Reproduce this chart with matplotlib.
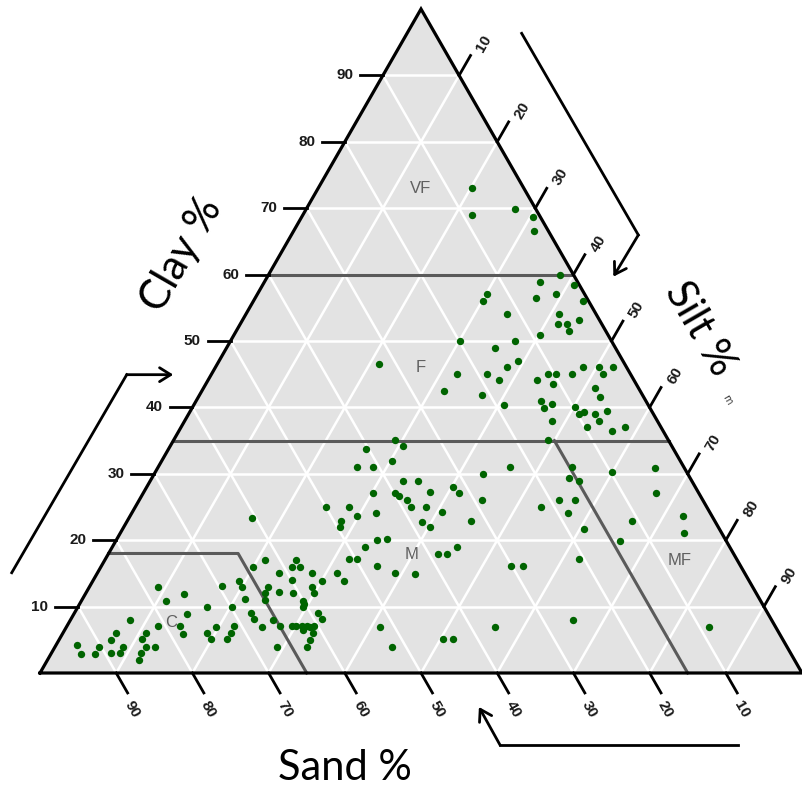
import numpy as np
import matplotlib.pyplot as plt

# soil samples: % clay and % sand (silt makes up the rest)
clay = [73.0, 69.0, 69.9, 68.7, 66.6, 59.9, 58.9, 58.4, 57.1, 56.0,
        57.1, 56.5, 56.0, 54.1, 54.1, 52.6, 52.6, 51.5, 53.2, 50.9,
        50.0, 50.0, 48.9, 47.0, 46.1, 45.0, 45.0, 44.1, 42.5, 41.9,
        40.4, 44.1, 45.0, 45.0, 43.5, 45.0, 46.1, 46.1, 45.0, 46.1,
        42.9, 41.6, 41.0, 40.5, 39.9, 40.1, 39.0, 39.3, 39.0, 39.5,
        38.0, 38.0, 37.0, 36.4, 37.0, 35.1, 46.5, 35.1, 34.2, 33.7,
        31.9, 31.0, 31.0, 31.0, 30.0, 28.9, 28.9, 28.0, 27.1, 27.3,
        27.1, 27.1, 26.7, 26.1, 25.0, 25.0, 26.1, 25.0, 25.0, 25.0,
        26.1, 24.1, 23.6, 24.2, 22.9, 22.0, 22.7, 22.0, 22.9, 20.2,
        20.0, 19.0, 19.0, 17.9, 17.9, 17.2, 17.2, 16.1, 15.1, 13.9,
        15.1, 14.9, 16.1, 16.1, 17.2, 19.9, 6.9, 3.9, 5.1, 5.1,
        6.9, 8.0, 6.9, 31.0, 30.3, 30.9, 29.4, 28.9, 27.1, 26.1,
        24.1, 22.9, 23.6, 21.7, 21.1,
        13.0, 11.9, 10.8, 8.0, 6.0, 5.0, 4.2, 2.9, 2.9, 3.9,
        3.0, 3.0, 3.9, 5.1, 6.0, 3.9, 3.0, 2.0, 3.9, 7.1,
        7.1, 5.9, 8.9, 9.9, 13.1, 9.9, 6.9, 6.0, 5.1, 5.1,
        6.0, 7.1, 13.9, 13.0, 11.1, 16.0, 17.0, 9.0, 8.1, 6.9,
        12.0, 13.0, 11.0, 8.0, 15.1, 12.2, 7.1, 3.9, 14.0, 12.0,
        16.0, 17.0, 16.0, 15.1, 13.0, 12.0, 13.9, 10.8, 9.9, 10.4,
        9.0, 8.1, 7.1, 7.1, 7.1, 7.1, 6.9, 7.1, 6.5, 6.0,
        5.0, 3.9, 23.3]
sand = [6.8, 8.8, 2.7, 0.9, 1.9, 1.8, 4.9, 0.7, 12.8, 13.9,
        3.8, 6.6, 0.7, 11.7, 4.8, 5.7, 4.5, 4.8, 2.7, 8.9,
        19.9, 12.7, 15.8, 13.8, 15.7, 22.8, 18.8, 17.7, 25.7, 21.0,
        18.9, 12.7, 10.8, 9.8, 10.9, 7.7, 5.7, 3.6, 3.6, 1.8,
        5.7, 5.7, 13.8, 12.6, 13.9, 9.7, 9.8, 8.9, 7.7, 5.8,
        7.6, 13.8, 9.7, 6.7, 4.7, 15.8, 32.3, 35.9, 35.3, 40.4,
        37.9, 42.9, 40.8, 22.8, 26.9, 37.9, 35.9, 31.8, 31.5, 35.2,
        42.7, 39.8, 39.6, 38.8, 38.8, 36.8, 28.9, 50.0, 46.9, 21.8,
        18.9, 43.8, 46.6, 35.1, 49.0, 49.6, 38.5, 37.8, 32.0, 44.4,
        45.8, 47.8, 35.8, 38.8, 37.7, 50.8, 49.8, 47.7, 53.5, 53.1,
        45.9, 43.4, 30.2, 28.6, 20.7, 13.9, 51.9, 51.9, 44.6, 43.2,
        36.8, 26.1, 8.7, 14.7, 9.8, 3.8, 15.9, 14.8, 5.6, 16.8,
        18.7, 10.8, 3.8, 17.7, 4.9,
        78.0, 75.1, 78.1, 84.2, 87.0, 88.2, 93.0, 93.2, 91.3, 90.3,
        89.2, 88.0, 87.1, 84.0, 83.1, 84.1, 85.2, 86.0, 83.0, 80.9,
        78.1, 78.3, 76.3, 73.2, 69.6, 69.9, 73.4, 75.1, 75.0, 72.9,
        71.9, 71.0, 67.0, 67.0, 67.6, 64.0, 62.0, 67.8, 67.9, 67.4,
        64.5, 63.6, 65.0, 65.4, 61.1, 62.5, 64.9, 66.9, 59.9, 60.8,
        58.9, 57.9, 57.9, 56.8, 57.8, 58.0, 56.1, 60.1, 60.6, 60.2,
        59.0, 58.9, 63.4, 62.8, 62.1, 61.4, 61.1, 60.5, 62.3, 61.2,
        62.1, 63.0, 60.5]

ticks = [10, 20, 30, 40, 50, 60, 70, 80, 90]

# texture class boundaries (sand, clay) and class labels
boundaries = [([40, 0], [60, 60]),
              ([65, 0], [35, 35]),
              ([82, 65, 65], [18, 18, 0]),
              ([15, 15], [35, 0])]
class_names = ["VF", "F", "M", "C", "MF"]
class_sand = [13.5, 27.0, 42.3, 79.0, 7.5]
class_clay = [73.0, 46.0, 17.8, 7.6, 17.0]

SQ = np.sqrt(3) / 2


def tern(s, c):
    s = np.asarray(s, float)
    c = np.asarray(c, float)
    return 100 - s - c / 2, c * SQ


fig = plt.figure(figsize=(8.03, 7.89), dpi=100)
ax = fig.add_axes([0, 0, 1, 1])
ax.set_xlim(-5.25, 100.13)
ax.set_ylim(-15.13, 87.78)
ax.axis("off")

ax.fill(*tern([100, 0, 0], [0, 0, 100]), color="#e3e3e3", zorder=0)

for v in ticks:
    kw = dict(color="white", lw=1.8, zorder=1)
    ax.plot(*tern([100 - v, 0], [v, v]), **kw)
    ax.plot(*tern([v, v], [0, 100 - v]), **kw)
    ax.plot(*tern([100 - v, 0], [0, 100 - v]), **kw)

for bs, bc in boundaries:
    ax.plot(*tern(bs, bc), color="#5a5a5a", lw=2.2, zorder=2)

ax.plot(*tern([100, 0, 0, 100], [0, 0, 100, 0]), color="black", lw=2.3,
        zorder=4, solid_joinstyle="miter")

tfont = dict(family="Liberation Sans", fontweight="bold", fontsize=11,
             color="#1a1a1a")
L = 3.0
for v in ticks:
    # clay (left)
    x0, y0 = tern(100 - v, v)
    ax.plot([x0, x0 - L], [y0, y0], color="black", lw=2, zorder=4)
    ax.text(x0 - L - 0.9, y0, str(v), ha="right", va="center", **tfont)
    # sand (bottom)
    x0, y0 = tern(v, 0)
    ax.plot([x0, x0 + L * 0.5], [y0, y0 - L * SQ], color="black", lw=2, zorder=4)
    ax.text(x0 + 2.1, y0 - 4.8, str(v), ha="center", va="center",
            rotation=-60, **tfont)
    # silt (right)
    x0, y0 = tern(0, 100 - v)
    ax.plot([x0, x0 + L * 0.5], [y0, y0 + L * SQ], color="black", lw=2, zorder=4)
    ax.text(x0 + 3.3, y0 + 4.1, str(v), ha="center", va="center",
            rotation=60, **tfont)

for name, s, c in zip(class_names, class_sand, class_clay):
    x, y = tern(s, c)
    ax.text(x, y, name, ha="center", va="center", fontsize=12,
            family="Liberation Sans", color="#606060", zorder=3)

px, py = tern(sand, clay)
ax.plot(px, py, "o", color="#006400", ms=5.3, mec="none", zorder=5)

title = dict(family="Lato", fontsize=30, color="black")
ax.text(40.0, -12.4, "Sand %", ha="center", va="center", **title)
ax.text(18.6, 54.5, "Clay %", ha="center", va="center", rotation=60, **title)
ax.text(86.6, 44.9, "Silt %", ha="center", va="center", rotation=-60, **title)
ax.text(90.2, 35.6, "m", ha="center", va="center", rotation=-60,
        fontsize=7, color="#333333")

# direction arrows
akw = dict(color="black", lw=2)
hkw = dict(arrowstyle="->,head_length=0.8,head_width=0.5", color="black",
           lw=2, shrinkA=0, shrinkB=0)
ax.plot([-3.71, 11.38], [13.08, 38.91], **akw)
ax.annotate("", xy=(17.49, 38.91), xytext=(11.38, 38.91), arrowprops=hkw)
ax.plot([63.21, 78.52], [83.43, 57.13], **akw)
ax.annotate("", xy=(75.24, 51.69), xytext=(78.52, 57.13), arrowprops=hkw)
ax.plot([91.6, 60.37], [-9.39, -9.39], **akw)
ax.annotate("", xy=(57.6, -4.43), xytext=(60.37, -9.39), arrowprops=hkw)

fig.savefig("out.png", dpi=100)
